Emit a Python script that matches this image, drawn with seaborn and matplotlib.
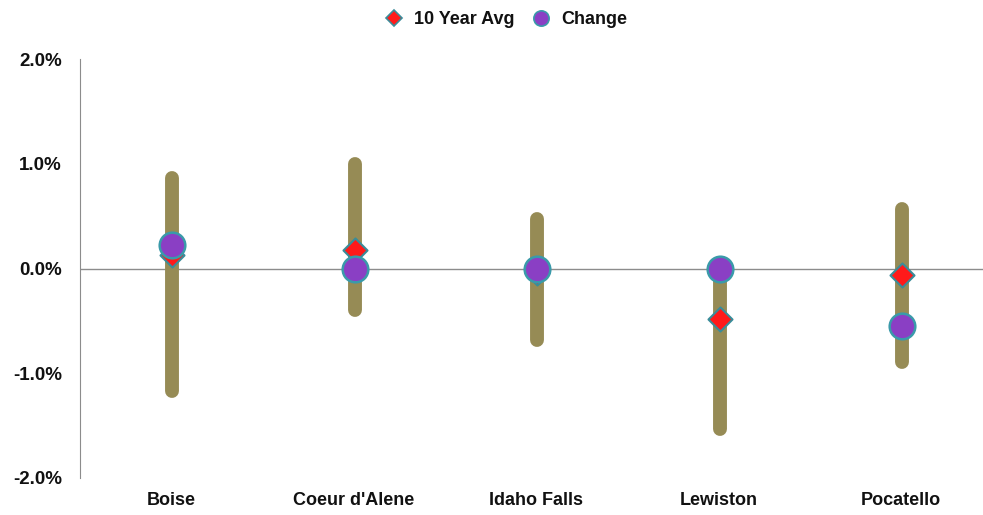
import pandas as pd
import numpy as np
import seaborn as sns
import matplotlib.pyplot as plt
from matplotlib.ticker import FuncFormatter
from matplotlib.lines import Line2D

cities = ['Boise', "Coeur d'Alene", 'Idaho Falls', 'Lewiston', 'Pocatello']
range_high = [0.86, 1.00, 0.47, 0.0, 0.57]
range_low = [-1.17, -0.40, -0.68, -1.53, -0.89]
ten_year_avg = [0.13, 0.18, -0.04, -0.48, -0.06]
change = [0.22, 0.0, 0.0, 0.0, -0.55]

df = pd.DataFrame({'city': cities, 'high': range_high, 'low': range_low,
                   'avg': ten_year_avg, 'change': change})

sns.set_style('white')
plt.rcParams['font.family'] = ['Liberation Sans', 'DejaVu Sans']

fig = plt.figure(figsize=(9.83, 5.15), dpi=100)
ax = fig.add_axes([80 / 983, 37 / 515, 1 - 80 / 983, (478 - 59) / 515])

# high-low ranges
xs = np.arange(len(cities))
lc = ax.vlines(xs + 0.006, df['low'], df['high'], color='#968B55', linewidth=10, zorder=2)
lc.set_capstyle('round')

# zero line
ax.axhline(0, color='#8c8c8c', linewidth=1, zorder=1)

sns.scatterplot(x=xs + 0.006, y=df['avg'], marker='D', s=150, color='#ff1a1a',
                edgecolor='#3a8c99', linewidth=1.5, ax=ax, zorder=3, legend=False)
sns.scatterplot(x=xs + 0.006, y=df['change'], marker='o', s=340, color='#8a3fc4',
                edgecolor='#3a9aaa', linewidth=1.8, ax=ax, zorder=4, legend=False)

ax.set_xlim(-0.5, 4.448)
ax.set_ylim(-2.0, 2.0)
ax.set_xticks(xs)
ax.set_xticklabels(cities)
ax.set_yticks([-2, -1, 0, 1, 2])
ax.yaxis.set_major_formatter(FuncFormatter(lambda v, p: f'{v:.1f}%'))
ax.set_xlabel('')
ax.set_ylabel('')
for s in ['top', 'right', 'bottom']:
    ax.spines[s].set_visible(False)
ax.spines['left'].set_color('#8c8c8c')
ax.tick_params(axis='y', length=0, pad=13, labelsize=13.5, labelcolor='#111111')
ax.tick_params(axis='x', length=0, pad=10, labelsize=13, labelcolor='#111111')
for t in ax.get_xticklabels() + ax.get_yticklabels():
    t.set_fontweight('bold')

handles = [Line2D([], [], marker='D', linestyle='', markersize=8, markerfacecolor='#ff1a1a',
                  markeredgecolor='#3a8c99', markeredgewidth=1.2, label='10 Year Avg'),
           Line2D([], [], marker='o', linestyle='', markersize=11, markerfacecolor='#8a3fc4',
                  markeredgecolor='#3a9aaa', markeredgewidth=1.2, label='Change')]
fig.legend(handles=handles, loc='upper center', bbox_to_anchor=(0.51, 1.01), ncol=2,
           frameon=False, handletextpad=0.1, columnspacing=0.5,
           prop={'size': 13, 'weight': 'bold'}, labelcolor='#111111')

plt.savefig('out.png', dpi=100)
